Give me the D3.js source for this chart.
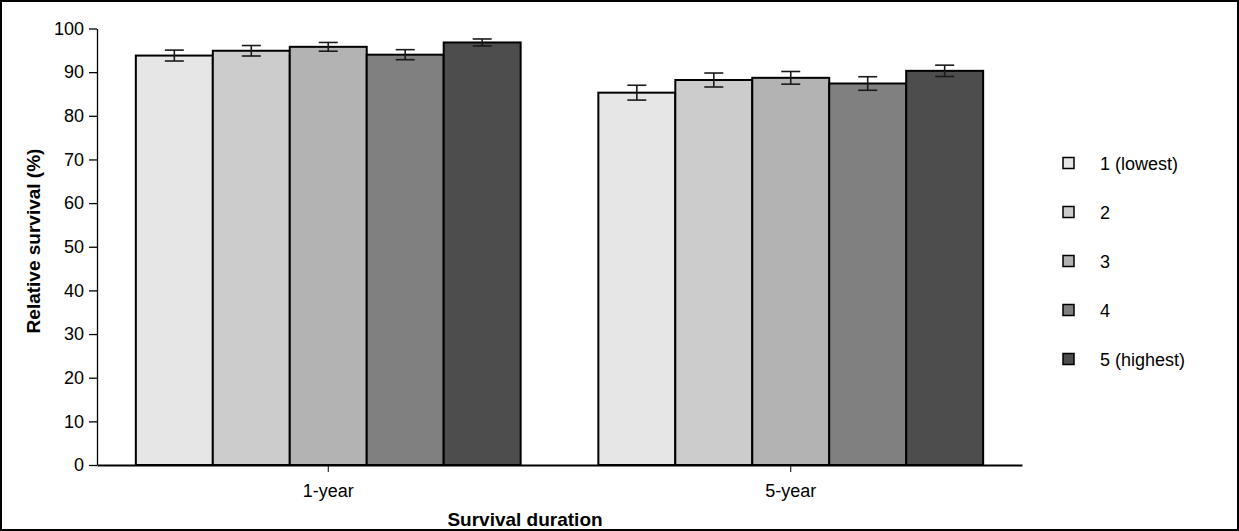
<!DOCTYPE html>
<html>
<head>
<meta charset="utf-8">
<script src="https://cdn.jsdelivr.net/npm/d3@7"></script>
<style>
  body { margin: 0; background: #fff; }
  svg text { font-family: "Liberation Sans", Arial, sans-serif; fill: #000; }
</style>
</head>
<body>
<div id="chart"></div>
<script>
// data
const durations = ["1-year", "5-year"];
const groups = ["1 (lowest)", "2", "3", "4", "5 (highest)"];
const survival1yr = [93.8, 94.9, 95.8, 94.0, 96.8];
const survival5yr = [85.3, 88.2, 88.7, 87.4, 90.3];
const err1yr = [1.25, 1.2, 1.0, 1.15, 0.8];
const err5yr = [1.7, 1.6, 1.45, 1.55, 1.3];
const yTicks = [0, 10, 20, 30, 40, 50, 60, 70, 80, 90, 100];
const greys = ["#e6e6e6", "#cccccc", "#b3b3b3", "#808080", "#4d4d4d"];

const W = 1239, H = 531;

const rows = [];
durations.forEach((dur, i) => {
    const vals = i === 0 ? survival1yr : survival5yr;
    const errs = i === 0 ? err1yr : err5yr;
    groups.forEach((g, j) => rows.push({dur: dur, group: g, value: vals[j], err: errs[j]}));
});

const svg = d3.select("#chart")
    .append("svg")
    .attr("width", W)
    .attr("height", H);

// outer frame
svg.append("rect")
    .attr("x", 1).attr("y", 1)
    .attr("width", W - 2).attr("height", H - 2)
    .attr("fill", "none")
    .attr("stroke", "#000")
    .attr("stroke-width", 2);

const x0 = d3.scaleBand()
    .domain(durations)
    .range([97, 1022])
    .paddingInner(0.168)
    .paddingOuter(0.084);

const x1 = d3.scaleBand()
    .domain(groups)
    .range([0, x0.bandwidth()]);

const y = d3.scaleLinear()
    .domain([0, 100])
    .range([465, 28.5]);

const color = d3.scaleOrdinal(groups, greys);

// bars
svg.append("g")
    .selectAll("rect")
    .data(rows)
    .enter()
    .append("rect")
    .attr("x", d => x0(d.dur) + x1(d.group))
    .attr("y", d => y(d.value))
    .attr("width", x1.bandwidth())
    .attr("height", d => y(0) - y(d.value))
    .attr("fill", d => color(d.group))
    .attr("stroke", "#000")
    .attr("stroke-width", 2);

// error bars
const eb = svg.append("g")
    .attr("stroke", "#1a1a1a")
    .attr("stroke-width", 1.6);
const cap = 9.5;
rows.forEach(d => {
    const cx = x0(d.dur) + x1(d.group) + x1.bandwidth() / 2;
    eb.append("line")
        .attr("x1", cx).attr("x2", cx)
        .attr("y1", y(d.value + d.err)).attr("y2", y(d.value - d.err));
    [d.value + d.err, d.value - d.err].forEach(v => {
        eb.append("line")
            .attr("x1", cx - cap).attr("x2", cx + cap)
            .attr("y1", y(v)).attr("y2", y(v));
    });
});

// y axis
const yAxis = svg.append("g")
    .attr("transform", "translate(97,0)")
    .call(d3.axisLeft(y).tickValues(yTicks).tickSize(8).tickPadding(5).tickSizeOuter(0));
yAxis.select(".domain").attr("stroke", "#000").attr("stroke-width", 1.3);
yAxis.selectAll(".tick line").attr("stroke", "#000").attr("stroke-width", 1.3);
yAxis.selectAll("text")
    .style("font-size", "18px")
    .style("font-family", "Liberation Sans, Arial, sans-serif")
    .attr("fill", "#000");

// x axis
const xAxis = svg.append("g")
    .attr("transform", "translate(0,465)")
    .call(d3.axisBottom(x0).tickSize(7).tickPadding(12).tickSizeOuter(0));
xAxis.select(".domain").attr("stroke", "#000").attr("stroke-width", 2);
xAxis.selectAll(".tick line").attr("stroke", "#000").attr("stroke-width", 1);
xAxis.selectAll("text")
    .style("font-size", "18px")
    .style("font-family", "Liberation Sans, Arial, sans-serif")
    .attr("fill", "#000");

// axis titles
svg.append("text")
    .attr("x", 525)
    .attr("y", 526)
    .attr("text-anchor", "middle")
    .attr("font-weight", "bold")
    .attr("font-size", "19px")
    .text("Survival duration");

svg.append("text")
    .attr("transform", "translate(40,241) rotate(-90)")
    .attr("text-anchor", "middle")
    .attr("font-weight", "bold")
    .attr("font-size", "19px")
    .text("Relative survival (%)");

// legend
const legend = svg.append("g")
    .selectAll("g")
    .data(groups)
    .enter()
    .append("g")
    .attr("transform", (d, i) => `translate(1063,${163 + i * 49})`);

legend.append("rect")
    .attr("x", 0).attr("y", -5.5)
    .attr("width", 11).attr("height", 11)
    .attr("fill", d => color(d))
    .attr("stroke", "#000")
    .attr("stroke-width", 1.5);

legend.append("text")
    .attr("x", 37)
    .attr("y", 6.5)
    .attr("font-size", "18px")
    .text(d => d);
</script>
</body>
</html>
